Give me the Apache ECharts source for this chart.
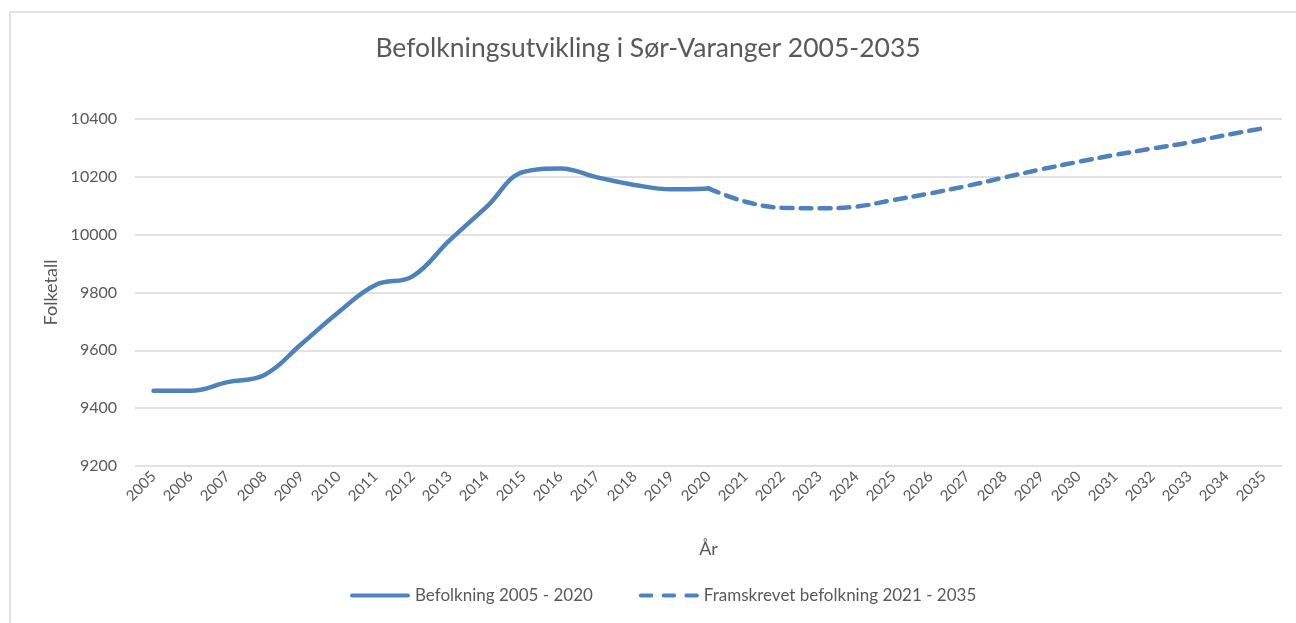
<!DOCTYPE html>
<html>
<head>
<meta charset="utf-8">
<script src="https://cdn.jsdelivr.net/npm/echarts@6/dist/echarts.min.js"></script>
<style>
  html, body { margin: 0; padding: 0; background: #fff; }
  #chart { width: 1296px; height: 623px; }
</style>
</head>
<body>
<div id="chart"></div>
<script>
// år på x-aksen
const years = []
for (let y = 2005; y <= 2035; y++) years.push(String(y))

// befolkning 2005 - 2020
const befolkning = [9460, 9460, 9490, 9515, 9622, 9732, 9826, 9856, 9980, 10096,
  10217, 10229, 10198, 10172, 10157, 10160]

// framskrevet 2021 - 2035 (startpunkt 2020 for sammenheng)
const framskrevet = [10160, 10114, 10093, 10091, 10097, 10120, 10143, 10169,
  10198, 10226, 10252, 10276, 10298, 10319, 10345, 10368]

const yTicks = { min: 9200, max: 10400, interval: 200 }
const legendNames = ['Befolkning 2005 - 2020', 'Framskrevet befolkning 2021 - 2035']

const textColor = '#595959'
const lineColor = '#4f81bd'
const font = 'Lato, "Open Sans", sans-serif'

const chart = echarts.init(document.getElementById('chart'))

// solid serie fyller de første årene, stiplet starter i 2020
const solidData = years.map((y, i) => i < befolkning.length ? befolkning[i] : null)
const dashedData = years.map((y, i) => {
  const j = i - (befolkning.length - 1)
  return j >= 0 ? framskrevet[j] : null
})

const option = {
  animation: false,
  textStyle: { fontFamily: font },
  graphic: [{
    type: 'rect',
    shape: { x: 10, y: 12, width: 1300, height: 700 },
    style: { fill: 'none', stroke: '#d9d9d9', lineWidth: 1.5 },
    silent: true
  }],
  title: {
    text: 'Befolkningsutvikling i Sør-Varanger 2005-2035',
    left: 'center',
    top: 30,
    textStyle: { color: textColor, fontSize: 26.5, fontWeight: 'normal', fontFamily: font }
  },
  legend: {
    bottom: 14,
    left: 345,
    itemWidth: 60,
    itemHeight: 5,
    itemGap: 46,
    data: [
      { name: legendNames[0], icon: 'path://M2,0H58A2,2 0 0 1 58,4H2A2,2 0 0 1 2,0Z' },
      { name: legendNames[1], icon: 'path://M2,0H12A2,2 0 0 1 12,4H2A2,2 0 0 1 2,0Z M24,0H34A2,2 0 0 1 34,4H24A2,2 0 0 1 24,0Z M46,0H56A2,2 0 0 1 56,4H46A2,2 0 0 1 46,0Z' }
    ],
    itemStyle: { color: lineColor },
    textStyle: { color: textColor, fontSize: 17, fontFamily: font }
  },
  grid: { left: 135, right: 14, top: 119, bottom: 157 },
  xAxis: {
    type: 'category',
    data: years,
    boundaryGap: true,
    name: 'År',
    nameLocation: 'middle',
    nameGap: 74,
    nameTextStyle: { color: textColor, fontSize: 18 },
    axisLine: { show: false },
    axisTick: { show: false },
    axisLabel: { rotate: 45, color: textColor, fontSize: 15, margin: 8, interval: 0 }
  },
  yAxis: {
    type: 'value',
    min: yTicks.min,
    max: yTicks.max,
    interval: yTicks.interval,
    name: 'Folketall',
    nameLocation: 'middle',
    nameGap: 74,
    nameRotate: 90,
    nameTextStyle: { color: textColor, fontSize: 18 },
    axisLine: { show: false },
    axisTick: { show: false },
    axisLabel: { color: textColor, fontSize: 16, margin: 18, formatter: v => String(v) },
    splitLine: { lineStyle: { color: '#d9d9d9', width: 1.5 } }
  },
  series: [
    {
      name: legendNames[0],
      type: 'line',
      data: solidData,
      smooth: 0.4,
      symbol: 'none',
      connectNulls: false,
      lineStyle: { color: lineColor, width: 4.5, cap: 'round' },
      itemStyle: { color: lineColor }
    },
    {
      name: legendNames[1],
      type: 'line',
      data: dashedData,
      smooth: 0.4,
      symbol: 'none',
      lineStyle: { color: lineColor, width: 4.5, type: [11, 8], cap: 'round' },
      itemStyle: { color: lineColor }
    }
  ]
}

chart.setOption(option)
window.addEventListener('resize', () => chart.resize())
</script>
</body>
</html>
